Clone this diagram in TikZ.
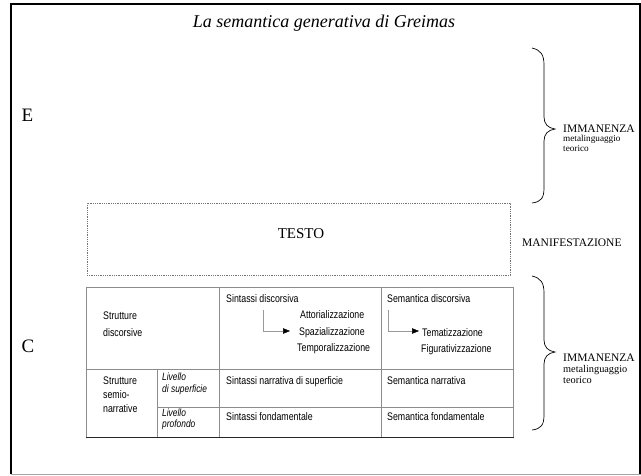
\documentclass[tikz,border=0pt]{standalone}
\usepackage{fontspec}
\setmainfont{Liberation Serif}
\newfontfamily\tabfont[FakeStretch=0.8]{Liberation Sans}
\usetikzlibrary{arrows.meta}
\begin{document}
\begin{tikzpicture}[x=1pt,y=-1pt,
  lbl/.style={inner sep=0pt, anchor=base west},
  tab/.style={inner sep=0pt, anchor=base west, font=\tabfont\fontsize{11}{13}\selectfont},
  tabit/.style={inner sep=0pt, anchor=base west, font=\tabfont\itshape\fontsize{10.5}{12}\selectfont},
  gridline/.style={draw=black!45, line width=0.8pt},
  bracepath/.style={draw=black, line width=0.7pt},
  tabarrow/.style={draw=black!40, line width=0.5pt, -{Triangle[length=7pt,width=5.5pt,fill=black,color=black]}},
  imm/.style={lbl, font=\fontsize{11.5}{13}\selectfont},
  meta/.style={lbl, font=\fontsize{9.2}{11}\selectfont},
  metab/.style={lbl, font=\fontsize{10.3}{12}\selectfont},
]
\useasboundingbox (0,0) rectangle (641,475);
\fill[white] (0,0) rectangle (641,475);
% slide frame
\draw[black, line width=2pt] (10.5,474) -- (10.5,4) -- (639.8,4) -- (639.8,474);
\draw[black!35, line width=1pt] (10.5,474) -- (641,474);

% title
\node[inner sep=0pt, anchor=base, font=\itshape\fontsize{18}{20}\selectfont] (title) at (324,27) {La semantica generativa di Greimas};

% E / C
\node[lbl, font=\fontsize{19}{21}\selectfont] (E) at (21.5,121) {E};
\node[lbl, font=\fontsize{19}{21}\selectfont] (C) at (21.5,352) {C};

% upper brace
\draw[bracepath] (532,48) .. controls (541,50) and (544,55) .. (544,65) -- (544,117)
  .. controls (544,124) and (548,128) .. (555,129)
  .. controls (548,130) and (544,134) .. (544,141) -- (544,188)
  .. controls (544,198) and (541,202) .. (532,203);
\node[imm] (imm1) at (563,132) {IMMANENZA};
\node[meta] (meta1) at (563,141) {metalinguaggio};
\node[meta] (teo1) at (563,151.5) {teorico};

% TESTO box
\node[draw=black!55, dash pattern=on 1pt off 0.8pt, line width=0.8pt, minimum width=423pt, minimum height=72pt, inner sep=0pt] (testobox) at (298.5,239) {};
\node[inner sep=0pt, anchor=base, font=\fontsize{15}{17}\selectfont] (testo) at (301,238) {TESTO};
\node[imm] (manif) at (522,246) {MANIFESTAZIONE};

% lower brace
\draw[bracepath] (532,276) .. controls (541,278) and (544,283) .. (544,293) -- (544,340)
  .. controls (544,347) and (548,351) .. (555,352)
  .. controls (548,353) and (544,357) .. (544,364) -- (544,415)
  .. controls (544,425) and (541,429) .. (532,430);
\node[imm] (imm2) at (563,361) {IMMANENZA};
\node[metab] (meta2) at (563,372) {metalinguaggio};
\node[metab] (teo2) at (563,383) {teorico};

% table grid
\draw[gridline] (86,287) rectangle (513,437);
\draw[gridline] (86,369) -- (513,369);
\draw[gridline] (157,407) -- (513,407);
\draw[gridline] (157,369) -- (157,437);
\draw[gridline] (219,287) -- (219,437);
\draw[gridline] (381,287) -- (381,437);
\draw[black!85, line width=1.2pt] (86,437.5) -- (513.5,437.5);

% table texts
\node[tab] (sd1) at (103,319.5) {Strutture};
\node[tab] (sd2) at (103,336.5) {discorsive};
\node[tab] (sindisc) at (226,302) {Sintassi discorsiva};
\node[tab] (att) at (300,318.5) {Attorializzazione};
\node[tab] (spa) at (299,335) {Spazializzazione};
\node[tab] (tem) at (297,351.5) {Temporalizzazione};
\node[tab] (semdisc) at (387,302) {Semantica discorsiva};
\node[tab] (tema) at (422,336) {Tematizzazione};
\node[tab] (figu) at (421,352) {Figurativizzazione};

\coordinate (a1s) at (263,310);
\coordinate (a1e) at (290,331);
\coordinate (a2s) at (388,310);
\coordinate (a2e) at (419,331);
\draw[tabarrow] (a1s) |- (a1e);
\draw[tabarrow] (a2s) |- (a2e);

\node[tab] (sn1) at (103,384) {Strutture};
\node[tab] (sn2) at (103,398) {semio-};
\node[tab] (sn3) at (103,412) {narrative};
\node[tabit] (lv1) at (162,380) {Livello};
\node[tabit] (lv1b) at (162,392) {di superficie};
\node[tabit] (lv2) at (162,416) {Livello};
\node[tabit] (lv2b) at (162,427) {profondo};
\node[tab] (sns) at (226,384) {Sintassi narrativa di superficie};
\node[tab] (semn) at (387,384) {Semantica narrativa};
\node[tab] (sinf) at (226,420) {Sintassi fondamentale};
\node[tab] (semf) at (387,420) {Semantica fondamentale};
\end{tikzpicture}
\end{document}
